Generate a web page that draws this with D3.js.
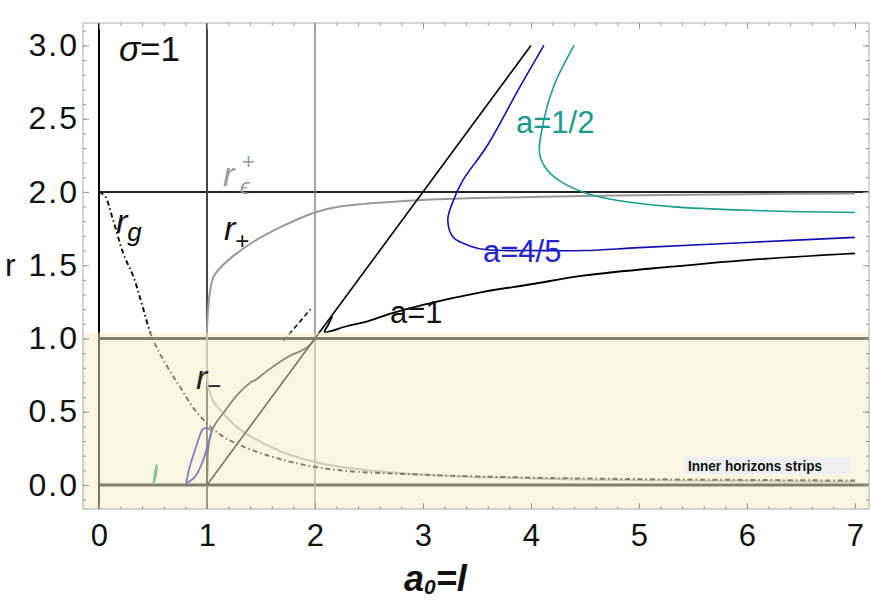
<!DOCTYPE html>
<html>
<head>
<meta charset="utf-8">
<script src="https://cdn.jsdelivr.net/npm/d3@7"></script>
<style>
  body { margin: 0; background: #fff; }
  text { font-family: "Liberation Sans", Arial, sans-serif; }
</style>
</head>
<body>
<svg id="chart" width="871" height="616"></svg>
<script>
// DATA SECTION

let xTickValues = [0, 1, 2, 3, 4, 5, 6, 7];
let yTickValues = [0, 0.5, 1, 1.5, 2, 2.5, 3];
let hLines = [{r: 2, color: '#222', w: 2}, {r: 1, color: '#111', w: 3}, {r: 0, color: '#111', w: 3}];
let vLines = [{a: 0, color: '#000', w: 2}, {a: 1, color: '#444', w: 2}, {a: 2, color: '#888', w: 1.5}];
let stripTop = 1.04;

// r = a0 - 1 straight line
let diagLine = [[1, 0], [4, 3]];
let dashSeg = [[1.71, 0.985], [1.96, 1.2]];

let rEpsPlus = [[1, 1.0], [1.0, 1.04], [1.01, 1.2], [1.03, 1.33], [1.06, 1.42], [1.12, 1.48],
  [1.24, 1.56], [1.43, 1.66], [1.68, 1.76], [2, 1.86], [2.23, 1.9], [3, 1.945], [4, 1.965],
  [4.8, 1.975], [6, 1.985], [7, 1.99]];

let rPlusInner = [[1, 0], [1.005, 0.12], [1.01, 0.24], [1.05, 0.38], [1.15, 0.49], [1.3, 0.63],
  [1.38, 0.685], [1.41, 0.705], [1.44, 0.712], [1.55, 0.775], [1.74, 0.87], [1.93, 0.94], [2, 1]];

let rMinus = [[1, 1.0], [1.0, 0.8], [1.01, 0.67], [1.06, 0.57], [1.15, 0.49], [1.27, 0.4],
  [1.43, 0.32], [1.68, 0.23], [1.98, 0.16], [2.23, 0.125], [3, 0.07], [4, 0.045], [5, 0.032], [7, 0.022]];

let rG = [[0, 2], [0.056, 1.97], [0.13, 1.81], [0.225, 1.58], [0.32, 1.42], [0.395, 1.24],
  [0.49, 1.01], [0.63, 0.81], [0.75, 0.67], [0.87, 0.53], [1, 0.42], [1.15, 0.33], [1.31, 0.27],
  [1.55, 0.205], [1.83, 0.148], [2.23, 0.1], [3, 0.07], [4, 0.05], [5, 0.04], [7, 0.03]];

let a1Upper = [[2.16, 1.15], [2.12, 1.09], [2.09, 1.045], [2.3, 1.085], [2.5, 1.12], [2.7, 1.17],
  [3, 1.23], [3.5, 1.31], [4, 1.37], [4.5, 1.43], [5.3, 1.49], [6, 1.535], [7, 1.58]];

let a45Upper = [[4.12, 3.0], [3.9, 2.72], [3.59, 2.31], [3.37, 2.08], [3.27, 1.92], [3.23, 1.81],
  [3.28, 1.69], [3.44, 1.63], [3.59, 1.605], [4, 1.6], [4.5, 1.6], [5, 1.62], [6, 1.655], [7, 1.69]];
let a45Loop = [[0.806, 0.01], [0.84, 0.125], [0.89, 0.24], [0.935, 0.34], [0.96, 0.38], [1.01, 0.387],
  [1.04, 0.37], [1.01, 0.285], [0.965, 0.17], [0.89, 0.057], [0.806, 0.01]];

let a12Upper = [[4.4, 3.0], [4.21, 2.72], [4.1, 2.42], [4.08, 2.26], [4.15, 2.15], [4.3, 2.06],
  [4.52, 1.99], [4.82, 1.94], [5.3, 1.9], [6, 1.875], [7, 1.86]];
let a12Loop = [[0.503, 0.01], [0.512, 0.06], [0.525, 0.115], [0.532, 0.137], [0.536, 0.12],
  [0.527, 0.06], [0.507, 0.01]];

// RENDER SECTION

let W = 871, H = 616;
let frame = {left: 83, right: 869, top: 23, bottom: 509};
let x = d3.scaleLinear().domain([-0.148, 7.13]).range([frame.left, frame.right]);
let y = d3.scaleLinear().domain([-0.164, 3.153]).range([frame.bottom, frame.top]);

let svg = d3.select('#chart');
svg.append('rect').attr('width', W).attr('height', H).attr('fill', '#fff');

svg.append('clipPath').attr('id', 'plotclip')
  .append('rect')
  .attr('x', frame.left).attr('y', frame.top)
  .attr('width', frame.right - frame.left).attr('height', frame.bottom - frame.top);

let plot = svg.append('g').attr('clip-path', 'url(#plotclip)');

// reference lines
plot.selectAll('line.h')
  .data(hLines)
  .enter().append('line')
  .attr('class', 'h')
  .attr('x1', x(0)).attr('x2', frame.right)
  .attr('y1', d => y(d.r)).attr('y2', d => y(d.r))
  .attr('stroke', d => d.color)
  .attr('stroke-width', d => d.w);

plot.selectAll('line.v')
  .data(vLines)
  .enter().append('line')
  .attr('class', 'v')
  .attr('x1', d => x(d.a)).attr('x2', d => x(d.a))
  .attr('y1', frame.top).attr('y2', frame.bottom)
  .attr('stroke', d => d.color)
  .attr('stroke-width', d => d.w);

let smooth = d3.line()
  .x(d => x(d[0]))
  .y(d => y(d[1]))
  .curve(d3.curveCatmullRom.alpha(0.5));
let straight = d3.line()
  .x(d => x(d[0]))
  .y(d => y(d[1]));

function addCurve(pts, gen, color, w, dash) {
  plot.append('path')
    .datum(pts)
    .attr('d', gen)
    .attr('fill', 'none')
    .attr('stroke', color)
    .attr('stroke-width', w)
    .attr('stroke-dasharray', dash || null)
    .attr('stroke-linejoin', 'round');
}

addCurve(rMinus, smooth, '#aaa', 2);
addCurve(rEpsPlus, smooth, '#999', 2);
addCurve(rG, smooth, '#111', 2, '5,3,1.5,3');
addCurve(rPlusInner, smooth, '#222', 1.8);
addCurve(diagLine, straight, '#000', 1.6);
addCurve(dashSeg, straight, '#111', 1.6, '5,3');
addCurve(a1Upper, smooth, '#000', 1.8);
addCurve(a45Upper, smooth, '#1010b0', 1.6);
addCurve(a45Loop, smooth, '#1010c8', 1.8);
addCurve(a12Upper, smooth, '#1c9c8c', 1.6);
addCurve(a12Loop, smooth, '#14a080', 1.8);

// labels sitting under the strip
let rm = svg.append('text').attr('x', 196).attr('y', 389)
  .attr('font-size', 34).attr('font-style', 'italic').attr('fill', '#222');
rm.append('tspan').text('r');
rm.append('tspan').attr('font-size', 24).attr('dy', 5).attr('font-style', 'normal').text('\u2212');

// inner horizons strip overlay
plot.append('rect')
  .attr('x', frame.left).attr('width', frame.right - frame.left)
  .attr('y', y(stripTop)).attr('height', frame.bottom - y(stripTop))
  .attr('fill', '#f7ebc4')
  .attr('fill-opacity', 0.5);

// frame + ticks
svg.append('rect')
  .attr('x', frame.left).attr('y', frame.top)
  .attr('width', frame.right - frame.left).attr('height', frame.bottom - frame.top)
  .attr('fill', 'none').attr('stroke', '#aaa').attr('stroke-width', 1);

let xMinor = d3.range(0, 7.01, 0.2);
let yMinor = d3.range(-0.1, 3.11, 0.1);

function tickAxis(axis, vals, size, tx, ty) {
  svg.append('g')
    .attr('transform', `translate(${tx},${ty})`)
    .call(axis.tickValues(vals).tickSize(-size).tickFormat(''))
    .call(g => g.select('.domain').remove())
    .call(g => g.selectAll('.tick line').attr('stroke', '#999'));
}
tickAxis(d3.axisBottom(x), xMinor, 3, 0, frame.bottom);
tickAxis(d3.axisBottom(x), xTickValues, 6, 0, frame.bottom);
tickAxis(d3.axisTop(x), xMinor, 3, 0, frame.top);
tickAxis(d3.axisTop(x), xTickValues, 6, 0, frame.top);
tickAxis(d3.axisLeft(y), yMinor, 3, frame.left, 0);
tickAxis(d3.axisLeft(y), yTickValues, 6, frame.left, 0);
tickAxis(d3.axisRight(y), yMinor, 3, frame.right, 0);
tickAxis(d3.axisRight(y), yTickValues, 6, frame.right, 0);

// tick labels
svg.append('g')
  .attr('transform', `translate(0,${frame.bottom})`)
  .call(d3.axisBottom(x).tickValues(xTickValues).tickSize(0).tickPadding(15).tickFormat(d3.format('d')))
  .call(g => g.select('.domain').remove())
  .call(g => g.selectAll('.tick text')
    .attr('font-family', '"Liberation Sans", Arial, sans-serif')
    .attr('font-size', 31)
    .attr('fill', '#111'));

svg.append('g')
  .attr('transform', `translate(${frame.left},0)`)
  .call(d3.axisLeft(y).tickValues(yTickValues).tickSize(0).tickPadding(4).tickFormat(d3.format('.1f')))
  .call(g => g.select('.domain').remove())
  .call(g => g.selectAll('.tick text')
    .attr('font-family', '"Liberation Sans", Arial, sans-serif')
    .attr('font-size', 32)
    .attr('letter-spacing', 2)
    .attr('fill', '#111'));

// axis titles
svg.append('text').attr('x', 5).attr('y', y(1.5) + 11)
  .attr('font-size', 32).attr('fill', '#111').text('r');

let xt = svg.append('text').attr('x', 404).attr('y', 591)
  .attr('font-size', 36).attr('font-weight', 'bold').attr('font-style', 'italic').attr('fill', '#111');
xt.append('tspan').text('a');
xt.append('tspan').attr('font-size', 21).attr('dy', 3).text('0');
xt.append('tspan').attr('dy', -3).text('=l');

// annotations
let sig = svg.append('text').attr('x', 119).attr('y', 61).attr('font-size', 35).attr('fill', '#111');
sig.append('tspan').attr('font-style', 'italic').text('\u03c3');
sig.append('tspan').text('=1');

let re = svg.append('text').attr('x', 223).attr('y', 186).attr('font-size', 34)
  .attr('font-style', 'italic').attr('fill', '#999');
re.append('tspan').text('r');
svg.append('text').attr('x', 242).attr('y', 169).attr('font-size', 22).attr('fill', '#999').text('+');
svg.append('text').attr('x', 240).attr('y', 194).attr('font-size', 22).attr('font-style', 'italic')
  .attr('fill', '#999').text('\u03f5');

let rg = svg.append('text').attr('x', 116).attr('y', 233).attr('font-size', 34)
  .attr('font-style', 'italic').attr('fill', '#111');
rg.append('tspan').text('r');
rg.append('tspan').attr('font-size', 26).attr('dy', 8).text('g');

let rp = svg.append('text').attr('x', 224).attr('y', 240).attr('font-size', 34)
  .attr('font-style', 'italic').attr('fill', '#111');
rp.append('tspan').text('r');
rp.append('tspan').attr('font-size', 24).attr('dy', 9).attr('font-style', 'normal').text('+');

svg.append('text').attr('x', 516).attr('y', 133).attr('font-size', 31).attr('fill', '#1a9a8c').text('a=1/2');
svg.append('text').attr('x', 483).attr('y', 262).attr('font-size', 31).attr('fill', '#2323d2').text('a=4/5');
svg.append('text').attr('x', 390).attr('y', 323).attr('font-size', 31).attr('fill', '#111').text('a=1');

// strip legend
svg.append('rect').attr('x', 685).attr('y', 457).attr('width', 165).attr('height', 17).attr('fill', '#eeeff0');
svg.append('text').attr('x', 688).attr('y', 471)
  .attr('font-family', '"Liberation Sans Narrow", "DejaVu Sans Condensed", sans-serif')
  .attr('font-weight', 'bold').attr('font-size', 15)
  .attr('textLength', 134).attr('lengthAdjust', 'spacingAndGlyphs')
  .attr('fill', '#111').text('Inner horizons strips');
</script>
</body>
</html>
